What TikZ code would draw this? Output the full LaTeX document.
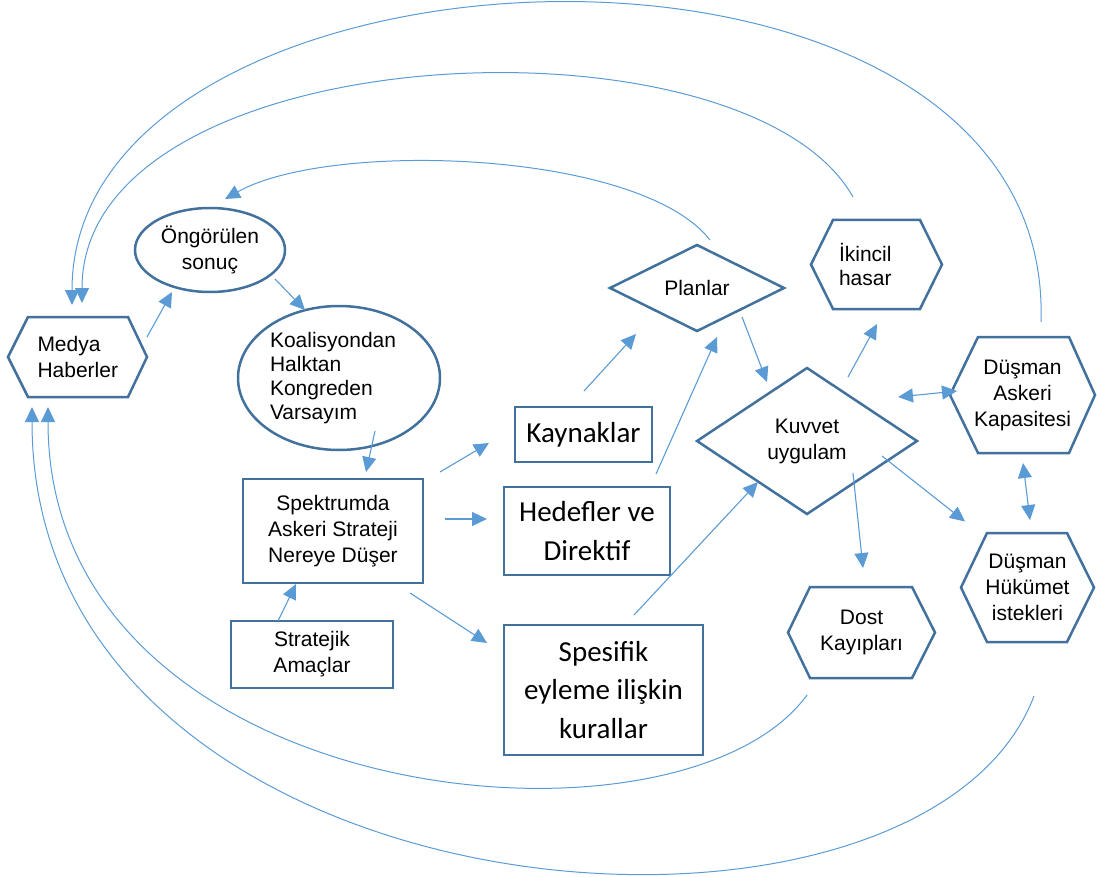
\documentclass[tikz,border=0pt]{standalone}
\usepackage{fontspec}
\setmainfont{Liberation Sans}
\newfontfamily\calibri{Carlito}
\usetikzlibrary{arrows.meta,shapes.geometric,calc}
\definecolor{bordc}{HTML}{41719C}
\definecolor{arrc}{HTML}{5B9BD5}
\tikzset{
  base/.style={inner sep=0pt, outer sep=0pt, font=\fontsize{21}{26}\selectfont, align=center},
  boxnode/.style={base, draw=bordc, line width=2.5pt, rectangle},
  ellnode/.style={base, draw=bordc, line width=2.5pt, ellipse},
  dianode/.style={base, draw=bordc, line width=2.5pt, diamond},
  hexnode/.style={base, rectangle},
  hexline/.style={draw=bordc, line width=2.5pt, line join=miter},
  calnode/.style={font=\calibri\fontsize{29}{38.5}\selectfont},
  arr/.style={draw=arrc, line width=1.1pt, -{Triangle[length=15pt,width=14pt]}},
  darr/.style={draw=arrc, line width=1.1pt, {Triangle[length=15pt,width=14pt]}-{Triangle[length=15pt,width=14pt]}},
  curve/.style={arr, line width=1pt},
}
\newcommand\hexoutline[3]{\draw[hexline] (#1.west) -- ($(#1.north west)+(#2,0)$) -- ($(#1.north east)+(-#3,0)$) -- (#1.east) -- ($(#1.south east)+(-#3,0)$) -- ($(#1.south west)+(#2,0)$) -- cycle;}
\begin{document}
\begin{tikzpicture}[x=1pt,y=-1pt]
\useasboundingbox (0,0) rectangle (1097,877);
% nodes
\node[hexnode, minimum width=139pt, minimum height=80pt, text width=80pt, align=left] (medya) at (77.5,357) {Medya\\Haberler};
\node[ellnode, minimum width=150pt, minimum height=84pt] (ong) at (210,250) {Öngörülen\\sonuç};
\node[ellnode, minimum width=202pt, minimum height=144pt, text width=138pt, align=left, font=\fontsize{21}{24}\selectfont] (koal) at (339,378) {Koalisyondan\\Halktan\\Kongreden\\Varsayım};
\node[boxnode, minimum width=180pt, minimum height=104pt] (spek) at (333,531) {Spektrumda\\Askeri Strateji\\Nereye Düşer};
\node[boxnode, minimum width=162pt, minimum height=67pt] (strat) at (312,654.5) {Stratejik\\Amaçlar};
\node[boxnode, calnode, minimum width=137pt, minimum height=55pt] (kayn) at (583.5,434.5) {Kaynaklar};
\node[boxnode, calnode, minimum width=166pt, minimum height=88pt] (hedef) at (587,531) {Hedefler ve\\Direktif};
\node[boxnode, calnode, minimum width=199pt, minimum height=130pt] (spes) at (603.5,690) {Spesifik\\eyleme ilişkin\\kurallar};
\node[dianode, minimum width=174pt, minimum height=86pt] (plan) at (697,288) {Planlar};
\node[hexnode, minimum width=131pt, minimum height=89pt, text width=75pt, align=left, font=\fontsize{21}{24}\selectfont] (ikin) at (876.5,264.5) {İkincil\\hasar};
\node[dianode, minimum width=220pt, minimum height=146pt] (kuv) at (807,441) {Kuvvet\\uygulam};
\node[hexnode, minimum width=145pt, minimum height=116pt] (dak) at (1022.5,395) {Düşman\\Askeri\\Kapasitesi};
\node[hexnode, minimum width=133pt, minimum height=109pt] (dhi) at (1027.5,587.5) {Düşman\\Hükümet\\istekleri};
\node[hexnode, minimum width=147pt, minimum height=91pt] (dost) at (861.5,632.5) {Dost\\Kayıpları};
% hexagon outlines
\hexoutline{medya}{20}{19}
\hexoutline{ikin}{22}{22}
\hexoutline{dak}{28}{26}
\hexoutline{dhi}{26}{27}
\hexoutline{dost}{22}{23}
% straight connectors
\draw[arr] ($(medya.east)+(0,-20)$) -- ($(ong.south)+(-38,0)$);
\draw[arr] ($(ong.center)+(65,29)$) -- ($(koal.north)+(-34,4)$);
\draw[arr] ($(koal.center)+(36,53)$) -- ($(spek.north)+(33,-7)$);
\draw[arr] ($(strat.north)+(-34,0)$) -- ($(spek.south)+(-37,1)$);
\draw[arr] ($(spek.north east)+(17,-7)$) -- ($(kayn.west)+(-26,8.5)$);
\draw[arr] ($(spek.east)+(22,-12)$) -- ($(hedef.west)+(-17,-12)$);
\draw[arr] ($(spek.south east)+(-13,10)$) -- ($(spes.north west)+(-17,18)$);
\draw[arr] ($(kayn.north)+(0.5,-16)$) -- ($(plan.south)+(-61,3)$);
\draw[arr] ($(hedef.north east)+(-14,-13)$) -- ($(plan.south)+(20,6)$);
\draw[arr] ($(spes.north)+(30.5,-10)$) -- ($(kuv.center)+(-49,41)$);
\draw[arr] ($(plan.center)+(45,29)$) -- ($(kuv.north)+(-40,14)$);
\draw[arr] ($(kuv.north)+(41,9)$) -- ($(ikin.south)+(0.5,15)$);
\draw[darr] ($(kuv.center)+(91,-44)$) -- ($(dak.west)+(7,-4)$);
\draw[darr] ($(dak.south)+(0.5,10)$) -- ($(dhi.north)+(2.5,-13)$);
\draw[arr] ($(kuv.center)+(75,15)$) -- ($(dhi.west)+(4,-66)$);
\draw[arr] ($(kuv.center)+(46,32)$) -- ($(dost.north)+(1.5,-19)$);
% curved connectors
\draw[curve] ($(plan.north)+(13,-5)$) .. controls +(-70,-90) and +(105,-59) .. ($(ong.north)+(15,-9)$);
\draw[curve] ($(ikin.north)+(-23.5,-23)$) .. controls +(-108,-192) and +(0,-268) .. ($(medya.north)+(4.5,-14)$);
\draw[curve] ($(dak.north)+(18.5,-15)$) .. controls +(14,-442) and +(0,-385) .. ($(medya.north)+(-5.5,-12)$);
\draw[curve] ($(dost.south)+(-54.5,17)$) .. controls +(-127,175) and +(0,403) .. ($(medya.south)+(-29.5,10)$);
\draw[curve] ($(dhi.south)+(6.5,54)$) .. controls +(-114,300) and +(0,520) .. ($(medya.south)+(-45.5,10)$);
\end{tikzpicture}
\end{document}
